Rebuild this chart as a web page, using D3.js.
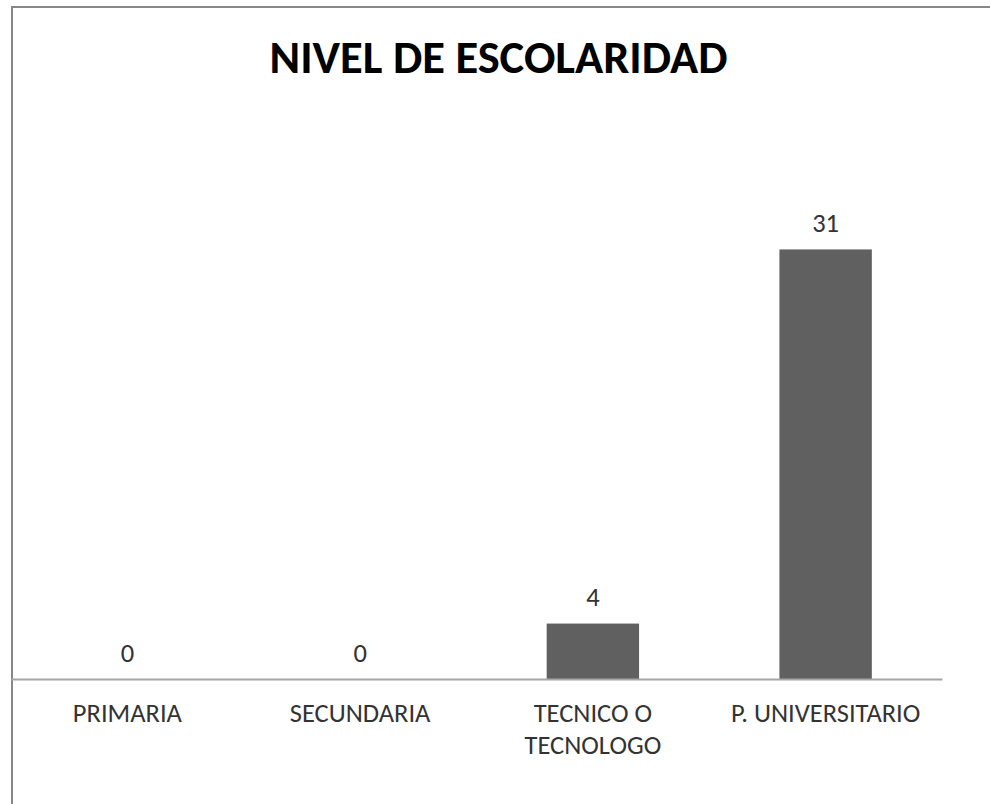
<!DOCTYPE html>
<html lang="es">
<head>
<meta charset="UTF-8">
<title>Nivel de escolaridad</title>
<style>
  body { margin: 0; background: #fff; }
  text { font-family: Carlito, Calibri, "Open Sans", sans-serif; }
</style>
</head>
<body>
<script src="https://d3js.org/d3.v7.min.js"></script>
<script>
  // data
  var titulo = "NIVEL DE ESCOLARIDAD";
  var categorias = [["PRIMARIA"], ["SECUNDARIA"], ["TECNICO O", "TECNOLOGO"], ["P. UNIVERSITARIO"]];
  var valores = [0, 0, 4, 31];

  var W = 990, H = 804;
  var svg = d3.select("body").append("svg")
    .attr("width", W)
    .attr("height", H);

  // chart frame (only left and top edges are inside the window)
  svg.append("rect")
    .attr("x", 12)
    .attr("y", 7)
    .attr("width", W + 20)
    .attr("height", H + 20)
    .attr("fill", "none")
    .attr("stroke", "#878787")
    .attr("stroke-width", 2);

  var x = d3.scaleBand()
    .domain(d3.range(valores.length))
    .range([11, 942])
    .paddingInner(0.603)
    .paddingOuter(0.3015);

  var y = d3.scaleLinear()
    .domain([0, 35])
    .range([679, 194]);

  svg.append("text")
    .attr("x", 498.5)
    .attr("y", 73)
    .attr("text-anchor", "middle")
    .attr("font-size", 46.5)
    .attr("font-weight", "bold")
    .attr("fill", "#000")
    .text(titulo);

  svg.selectAll("rect.bar")
    .data(valores)
    .enter()
    .append("rect")
    .attr("class", "bar")
    .attr("x", function(d, i) { return x(i); })
    .attr("y", function(d) { return y(d); })
    .attr("width", x.bandwidth())
    .attr("height", function(d) { return y(0) - y(d); })
    .attr("fill", "#606060");

  // x axis line
  var axis = d3.axisBottom(x).tickSize(0).tickFormat("");
  var gAxis = svg.append("g")
    .attr("transform", "translate(0," + y(0) + ")")
    .call(axis);
  gAxis.select(".domain")
    .attr("stroke", "#a6a6a6")
    .attr("stroke-width", 2);

  // value labels
  svg.selectAll("text.valor")
    .data(valores)
    .enter()
    .append("text")
    .attr("class", "valor")
    .attr("x", function(d, i) { return x(i) + x.bandwidth() / 2; })
    .attr("y", function(d) { return y(d) - 17.5; })
    .attr("text-anchor", "middle")
    .attr("font-size", 26.5)
    .attr("fill", "#333")
    .text(function(d) { return d; });

  // category labels
  var cat = svg.selectAll("text.cat")
    .data(categorias)
    .enter()
    .append("text")
    .attr("class", "cat")
    .attr("text-anchor", "middle")
    .attr("font-size", 26.5)
    .attr("fill", "#333");

  cat.selectAll("tspan")
    .data(function(d, i) { return d.map(function(t) { return { t: t, i: i }; }); })
    .enter()
    .append("tspan")
    .attr("x", function(d) { return x(d.i) + x.bandwidth() / 2; })
    .attr("y", function(d, j) { return 722 + j * 32; })
    .text(function(d) { return d.t; });
</script>
</body>
</html>
